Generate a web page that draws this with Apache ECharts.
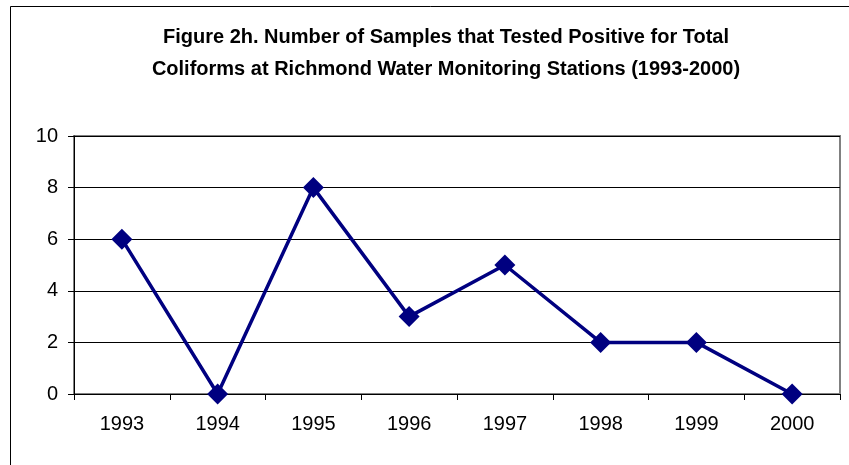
<!DOCTYPE html>
<html>
<head>
<meta charset="utf-8">
<script src="https://cdn.jsdelivr.net/npm/echarts@6/dist/echarts.min.js"></script>
<style>
  html, body { margin: 0; padding: 0; background: #fff; }
  #chart { width: 849px; height: 465px; }
</style>
</head>
<body>
<div id="chart"></div>
<script>
// years and counts
var years = ["1993", "1994", "1995", "1996", "1997", "1998", "1999", "2000"];
var positives = [6, 0, 8, 3, 5, 2, 2, 0];
var yTicks = { min: 0, max: 10, step: 2 };

var myChart = echarts.init(document.getElementById("chart"));

var option = {
  backgroundColor: "#fff",
  animation: false,
  textStyle: { fontFamily: "Arial, 'Liberation Sans', sans-serif" },
  title: {
    text: "Figure 2h. Number of Samples that Tested Positive for Total\nColiforms at Richmond Water Monitoring Stations (1993-2000)",
    left: 441,
    textAlign: "center",
    top: 16,
    textStyle: {
      fontFamily: "Arial, 'Liberation Sans', sans-serif",
      fontWeight: "bold",
      fontSize: 20,
      lineHeight: 32,
      color: "#000"
    }
  },
  // outer frame of the figure (cropped at right and bottom)
  graphic: [{
    type: "rect",
    shape: { x: 10.5, y: 6.5, width: 900, height: 600 },
    style: { fill: null, stroke: "#000", lineWidth: 1 },
    silent: true
  }],
  grid: {
    left: 74,
    right: 9,
    top: 136,
    bottom: 71,
    show: true,
    borderColor: "#808080",
    borderWidth: 2
  },
  xAxis: {
    type: "category",
    data: years,
    boundaryGap: true,
    axisLine: { lineStyle: { color: "#000", width: 1 } },
    axisTick: { show: true, length: 6, alignWithLabel: false, lineStyle: { color: "#000" } },
    axisLabel: { color: "#000", fontSize: 20, margin: 20 }
  },
  yAxis: {
    type: "value",
    min: yTicks.min,
    max: yTicks.max,
    interval: yTicks.step,
    axisLine: { show: true, lineStyle: { color: "#000", width: 1 } },
    axisTick: { show: true, length: 6, lineStyle: { color: "#000" } },
    axisLabel: { color: "#000", fontSize: 20, margin: 16 },
    splitLine: { show: true, lineStyle: { color: "#000", width: 1 } }
  },
  series: [{
    name: "Positive samples",
    type: "line",
    data: positives,
    symbol: "diamond",
    symbolSize: 21,
    lineStyle: { color: "#000080", width: 3.5 },
    itemStyle: { color: "#000080" }
  }]
};

myChart.setOption(option);
</script>
</body>
</html>
